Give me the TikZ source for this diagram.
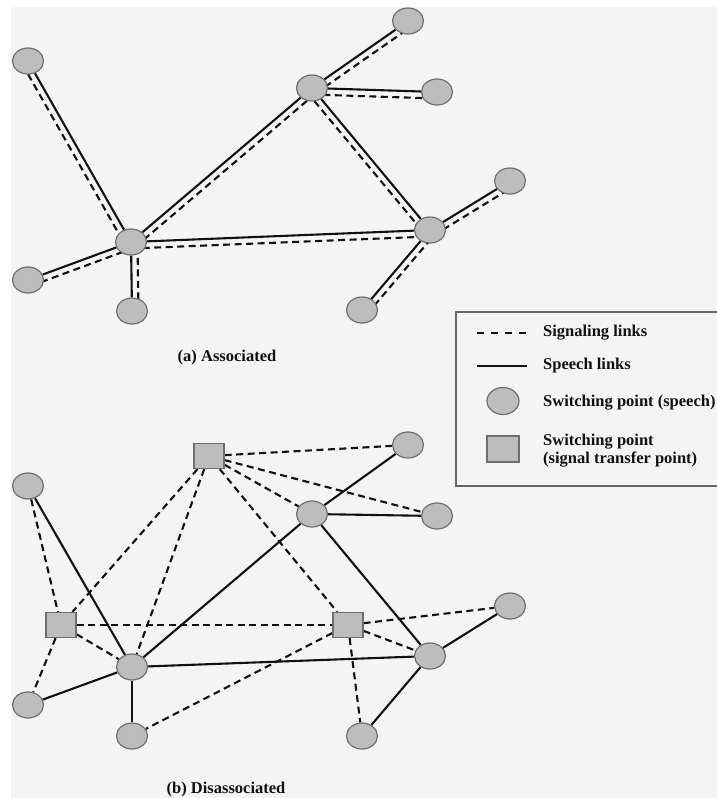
\documentclass[tikz,border=0pt]{standalone}
\usepackage{fontspec}
\setmainfont{Liberation Serif}
\usetikzlibrary{calc,shapes.geometric}
\pgfdeclarelayer{back}
\pgfdeclarelayer{links}
\pgfsetlayers{back,links,main}

\definecolor{paper}{HTML}{F4F4F4}
\definecolor{nodefill}{HTML}{BDBDBD}
\definecolor{nodeedge}{HTML}{6E6E6E}
\definecolor{ink}{HTML}{111111}

\tikzset{
  sp/.style={ellipse, draw=nodeedge, fill=nodefill, line width=1.2pt,
             minimum width=31pt, minimum height=26pt, inner sep=0pt},
  stp/.style={rectangle, draw=nodeedge, fill=nodefill, line width=1.2pt,
              minimum width=30pt, minimum height=25pt, inner sep=0pt},
  speech/.style={line width=2.1pt, draw=ink},
  signal/.style={line width=2.1pt, draw=ink, dash pattern=on 7pt off 4.5pt},
  caption/.style={font=\fontsize{16.5}{18}\selectfont\bfseries, text=ink},
  legtext/.style={font=\fontsize{16.5}{18}\selectfont\bfseries, text=ink,
                  anchor=west, align=left, inner sep=0pt},
}

% speech link with its signaling link running alongside on the right-hand side
\newcommand\pairlink[2]{%
  \draw[speech] (#1) -- (#2);
  \draw[signal] ($(#1)!6.5pt!-90:(#2)$) -- ($(#2)!6.5pt!90:(#1)$);}

\begin{document}
\begin{tikzpicture}[x=1pt,y=-1pt]
\useasboundingbox (0,0) rectangle (717,798);
\begin{pgfonlayer}{back}
  \fill[white] (0,0) rectangle (717,798);
  \fill[paper] (11,7) rectangle (717,798);
\end{pgfonlayer}

% ---------- (a) associated ----------
\node[sp] (a1)  at (28,61)   {};
\node[sp] (a2)  at (131,242) {};
\node[sp] (a3)  at (28,280)  {};
\node[sp] (a4)  at (132,311) {};
\node[sp] (a5)  at (312,88)  {};
\node[sp] (a6)  at (408,21)  {};
\node[sp] (a7)  at (437,92)  {};
\node[sp] (a8)  at (430,230) {};
\node[sp] (a9)  at (510,181) {};
\node[sp] (a10) at (362,310) {};

\begin{pgfonlayer}{links}
  \pairlink{a1}{a2}
  \pairlink{a3}{a2}
  \pairlink{a4}{a2}
  \pairlink{a2}{a5}
  \pairlink{a2}{a8}
  \pairlink{a5}{a6}
  \pairlink{a5}{a7}
  \pairlink{a5}{a8}
  \pairlink{a8}{a9}
  \pairlink{a10}{a8}
\end{pgfonlayer}

\node[caption] (capa) at (227,358) {(a) Associated};

% ---------- (b) disassociated ----------
\node[stp] (s1)  at (209,456) {};
\node[stp] (s2)  at (61,625)  {};
\node[stp] (s3)  at (348,625) {};
\node[sp]  (b1)  at (28,486)  {};
\node[sp]  (b2)  at (132,667) {};
\node[sp]  (b3)  at (28,705)  {};
\node[sp]  (b4)  at (132,736) {};
\node[sp]  (b5)  at (312,514) {};
\node[sp]  (b6)  at (408,445) {};
\node[sp]  (b7)  at (437,516) {};
\node[sp]  (b8)  at (430,656) {};
\node[sp]  (b9)  at (510,606) {};
\node[sp]  (b10) at (362,736) {};

\begin{pgfonlayer}{links}
  % speech links
  \draw[speech] (b1) -- (b2);
  \draw[speech] (b2) -- (b3);
  \draw[speech] (b2) -- (b4);
  \draw[speech] (b2) -- (b5);
  \draw[speech] (b2) -- (b8);
  \draw[speech] (b5) -- (b6);
  \draw[speech] (b5) -- (b7);
  \draw[speech] (b5) -- (b8);
  \draw[speech] (b8) -- (b9);
  \draw[speech] (b8) -- (b10);
  % signaling links through the transfer points
  \draw[signal] (s1) -- (b6);
  \draw[signal] (s1) -- (b7);
  \draw[signal] (s1) -- (b5);
  \draw[signal] (s1) -- (s3);
  \draw[signal] (s1) -- (s2);
  \draw[signal] (s1) -- (b2);
  \draw[signal] (b1) -- (s2);
  \draw[signal] (s2) -- (s3);
  \draw[signal] (s2) -- (b2);
  \draw[signal] (s2) -- (b3);
  \draw[signal] (s3) -- (b4);
  \draw[signal] (s3) -- (b9);
  \draw[signal] (s3) -- (b8);
  \draw[signal] (s3) -- (b10);
\end{pgfonlayer}

\node[caption] (capb) at (226,790) {(b) Disassociated};

% ---------- legend ----------
\draw[draw=gray!80!black, line width=1.5pt] (456,312) rectangle (740,486);
\coordinate (l1a) at (477,333); \coordinate (l1b) at (527,333);
\coordinate (l2a) at (477,366); \coordinate (l2b) at (527,366);
\draw[signal, dash pattern=on 7pt off 7pt] (l1a) -- (l1b);
\draw[speech] (l2a) -- (l2b);
\node[sp, minimum width=32pt, minimum height=27pt] (lsp) at (503,401) {};
\node[stp, minimum width=32pt, minimum height=26pt] (lstp) at (503,449) {};
\node[legtext] (t1) at (543,333) {Signaling links};
\node[legtext] (t2) at (543,366) {Speech links};
\node[legtext] (t3) at (543,403) {Switching point (speech)};
\node[legtext] (t4) at (543,451) {Switching point\\(signal transfer point)};
\end{tikzpicture}
\end{document}
